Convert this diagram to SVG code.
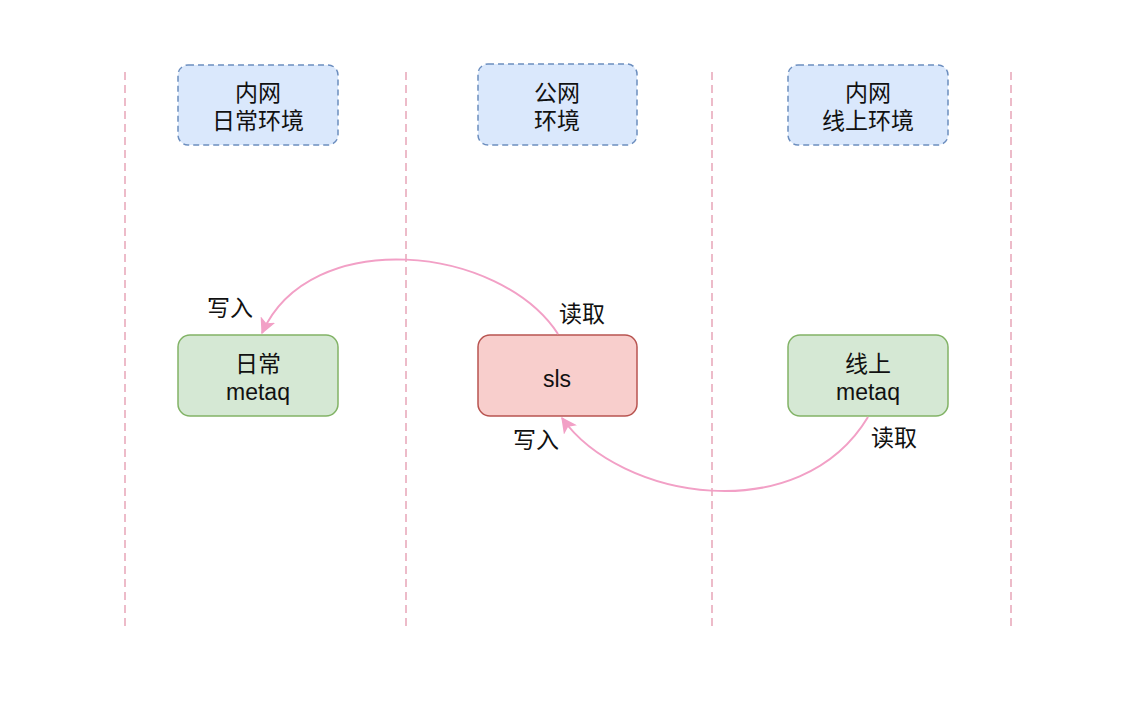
<svg xmlns="http://www.w3.org/2000/svg" width="1126" height="704" viewBox="0 0 1126 704">
<defs>
<style>
.lane{stroke:#e8a5b8;stroke-width:1.5;stroke-dasharray:8 5;fill:none}
.env{fill:#dae8fc;stroke:#6c8ebf;stroke-width:1.5;stroke-dasharray:6 4}
.green{fill:#d5e8d4;stroke:#82b366;stroke-width:1.5}
.red{fill:#f8cecc;stroke:#b85450;stroke-width:1.5}
text{font-family:"Liberation Sans","Noto Sans CJK SC",sans-serif;font-size:23px;fill:#111;text-anchor:middle}
.edge{fill:none;stroke:#f2a0c6;stroke-width:2}
</style>
<marker id="arrow" viewBox="0 0 12 12" refX="11" refY="6" markerWidth="16" markerHeight="16" markerUnits="userSpaceOnUse" orient="auto">
<path d="M0,0 L12,6 L0,12 L3,6 Z" fill="#f2a0c6"/>
</marker>
</defs>
<rect width="1126" height="704" fill="#ffffff"/>
<g id="lanes">
<line class="lane" x1="125" y1="72" x2="125" y2="628"/>
<line class="lane" x1="406" y1="72" x2="406" y2="628"/>
<line class="lane" x1="712" y1="72" x2="712" y2="628"/>
<line class="lane" x1="1011" y1="72" x2="1011" y2="628"/>
</g>
<g id="env-daily">
<rect class="env" x="178" y="65" width="160" height="80" rx="10"/>
<text x="258" y="101">内网</text>
<text x="258" y="129">日常环境</text>
</g>
<g id="env-public">
<rect class="env" x="478" y="64" width="159" height="81" rx="10"/>
<text x="557" y="101">公网</text>
<text x="557" y="129">环境</text>
</g>
<g id="env-online">
<rect class="env" x="788" y="65" width="160" height="80" rx="10"/>
<text x="868" y="101">内网</text>
<text x="868" y="129">线上环境</text>
</g>
<g id="node-daily-metaq">
<rect class="green" x="178" y="335" width="160" height="81" rx="12"/>
<text x="258" y="372">日常</text>
<text x="258" y="400">metaq</text>
</g>
<g id="node-sls">
<rect class="red" x="478" y="335" width="159" height="81" rx="12"/>
<text x="557" y="387">sls</text>
</g>
<g id="node-online-metaq">
<rect class="green" x="788" y="335" width="160" height="81" rx="12"/>
<text x="868" y="372">线上</text>
<text x="868" y="400">metaq</text>
</g>
<g id="connectors">
<path class="edge" d="M558,334 C500,245 310,225 262,333" marker-end="url(#arrow)"/>
<path class="edge" d="M868,417 C800,530 620,500 562,418" marker-end="url(#arrow)"/>
<text x="230" y="316">写入</text>
<text x="582" y="322">读取</text>
<text x="536" y="448">写入</text>
<text x="894" y="446">读取</text>
</g>
</svg>
